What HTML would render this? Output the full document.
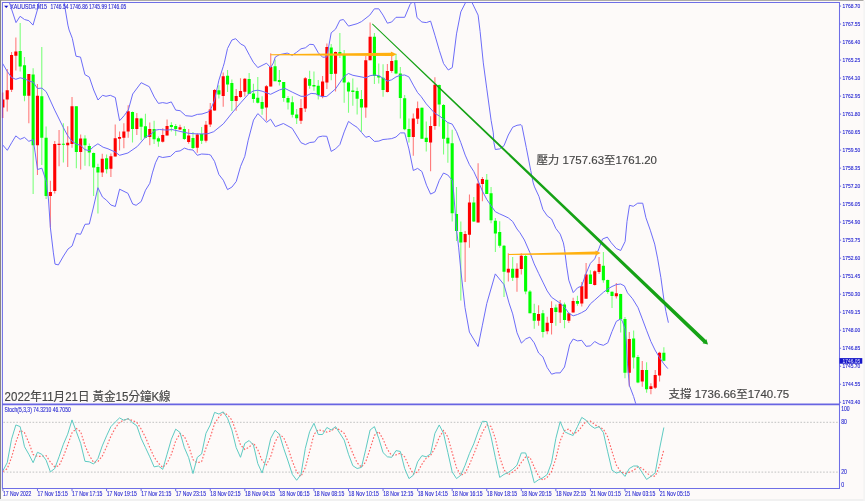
<!DOCTYPE html>
<html lang="zh-Hant"><head><meta charset="utf-8"><title>XAUUSD M15</title>
<style>html,body{margin:0;padding:0;background:#fdfaf9;overflow:hidden}svg{display:block}text{font-family:"Liberation Sans","Noto Sans CJK TC",sans-serif}.ax{font-size:6.3px;fill:#2a2ad2;stroke:#2a2ad2;stroke-width:0.12px}.cap{font-size:12px;fill:#444;stroke:#444;stroke-width:0.15px}.cap2{font-size:11.1px;fill:#444;stroke:#444;stroke-width:0.15px}</style></head><body>
<svg width="865" height="501" viewBox="0 0 865 501">
<rect width="865" height="501" fill="#fdfaf9"/>
<rect x="0" y="0" width="863.5" height="0.7" fill="#8a8a86"/>
<rect x="0" y="0" width="1" height="499.5" fill="#858585"/>
<rect x="0" y="499" width="865" height="2" fill="#f1f1f1"/>
<rect x="863.3" y="1" width="1.7" height="500" fill="#f4f4f4"/>
<defs><clipPath id="cm"><rect x="2.9" y="2.9" width="836.1" height="400.9"/></clipPath><clipPath id="ci"><rect x="2.9" y="404.8" width="836.1" height="83.2"/></clipPath><filter id="bl" x="-5%" y="-50%" width="110%" height="200%"><feGaussianBlur stdDeviation="0.3"/></filter></defs>
<g clip-path="url(#cm)">
<path d="M2.9 92.5V118M7.22 69V111.4M11.54 52V92M15.86 37.5V70.5M28.82 74V123.3M37.46 84V175.1M50.42 180.8V227.7M54.74 140.9V193.4M59.06 130V166.3M67.7 126.2V167M72.02 96.9V147.8M80.66 134.6V169.5M102.26 153.8V177M110.9 153.4V177M115.22 124.5V156.5M119.54 131.4V150.5M123.86 123.2V148.3M128.18 105.3V137.7M136.82 113.1V135.1M149.78 122.6V145.2M162.74 128.2V142.4M167.06 119.4V135.5M180.02 124.8V130.1M188.66 129.1V143.7M197.3 133.3V152.7M205.94 121.1V142.4M210.26 103V127M214.58 89V110.7M223.22 72.6V106.7M236.18 89V110.7M240.5 78.3V97.8M244.82 77.9V96.5M266.42 85V120.7M270.74 53.3V86.5M300.98 99V123.9M305.3 77V111.9M322.58 76.1V98.3M326.9 43.6V88.9M335.54 51.5V91.4M365.78 55.9V117.8M370.1 22.4V60.3M387.38 64V92.6M391.7 56.6V72.8M413.3 113.4V155.8M417.62 101.4V124M430.58 116.3V171.2M434.9 77.3V129.7M465.14 230.9V282.1M469.46 194.4V247.8M478.1 163.3V222.5M482.42 177.1V201.3M508.34 253.2V281.5M516.98 263.3V291.8M521.3 253.2V274.6M538.58 305.3V325.8M547.22 316.7V334.3M551.54 301.2V334.6M560.18 300.1V322.9M568.82 312.5V322.9M573.14 297.8V312.4M581.78 282.1V306.6M586.1 263V298.8M594.74 270.2V285.5M599.06 257V273.9M616.34 283V298.4M629.3 332.1V386.5M642.26 361.1V386.7M650.9 383.3V394.3M655.22 369.9V389M659.54 351.8V381.5" stroke="#ff7c7c" stroke-width="1.1" fill="none"/>
<path d="M20.18 22.9V71.5M24.5 57V101.3M33.14 68.3V194M41.78 47V165M46.1 126.5V199M63.38 123.3V162.6M76.34 106.3V168.2M84.98 135.3V165.7M89.3 143.4V166.3M93.62 152.5V195.9M97.94 163.8V213.6M106.58 154.4V173.6M132.5 111.6V142.4M141.14 117.8V140.2M145.46 113.8V138.3M154.1 120.7V143.9M158.42 136.4V146.7M171.38 122.2V131.6M175.7 124.1V135.8M184.34 126.3V139.9M192.98 132V149M201.62 127V143.9M218.9 85.2V98.4M227.54 70.1V92.1M231.86 79.5V111.1M249.14 73V94M253.46 83.7V102.8M257.78 77V103.5M262.1 96.3V114.8M275.06 59.4V81.2M279.38 69.9V85.5M283.7 82.1V101.8M288.02 95.9V109.4M292.34 96.3V117.6M296.66 108.9V123.9M309.62 70.7V88.7M313.94 71.6V90.8M318.26 80.1V99.5M331.22 44.1V80.2M339.86 33V57.9M344.18 50V102.7M348.5 81.6V112.7M352.82 78.6V105.8M357.14 87.6V114.6M361.46 89.9V131.8M374.42 33V84.1M378.74 63.4V83.6M383.06 64.3V96.7M396.02 53.7V74.3M400.34 67.1V118.4M404.66 94.9V130.3M408.98 118.4V142.6M421.94 107.5V138.8M426.26 121.5V151.6M439.22 84.5V126.6M443.54 104V154.5M447.86 122.8V162.7M452.18 129.7V221.5M456.5 186.9V241M460.82 221.5V300.5M473.78 196.9V222M486.74 174V194.1M491.06 186.9V223.3M495.38 217.9V251.9M499.7 221.2V247.8M504.02 245V297M512.66 257V280.9M525.62 255V294.3M529.94 290V313.3M534.26 303.8V328.7M542.9 310.1V337.5M555.86 304.5V325.8M564.5 302.6V328.3M577.46 295.7V305.7M590.42 270.2V284M603.38 251.9V282.7M607.7 279.6V293.8M612.02 291.5V307.9M620.66 293.8V332.5M624.98 317V378.3M633.62 330.5V368.6M637.94 355V383.3M646.58 362.3V392.8M663.86 347.2V361.3" stroke="#7cff7c" stroke-width="1.1" fill="none"/>
<path d="M1.35 99.5h3.1v8h-3.1zM5.67 90.3h3.1v9.1h-3.1zM9.99 55.1h3.1v34.6h-3.1zM14.31 51.4h3.1v4.4h-3.1zM27.27 74h3.1v21.7h-3.1zM35.91 95.7h3.1v49.6h-3.1zM48.87 192.1h3.1v3.8h-3.1zM53.19 144h3.1v46.9h-3.1zM57.51 143.8h3.1v1.2h-3.1zM66.15 142.8h3.1v2.5h-3.1zM70.47 106.3h3.1v37.7h-3.1zM79.11 138.4h3.1v13.5h-3.1zM100.71 158.8h3.1v13.8h-3.1zM109.35 156.3h3.1v12.5h-3.1zM113.67 138.3h3.1v18.2h-3.1zM117.99 137h3.1v1.7h-3.1zM122.31 131.4h3.1v6.3h-3.1zM126.63 111.3h3.1v20.3h-3.1zM135.27 118.2h3.1v10.7h-3.1zM148.23 129.1h3.1v7.9h-3.1zM161.19 135.1h3.1v6.6h-3.1zM165.51 126.1h3.1v9.4h-3.1zM178.47 127.3h3.1v2.2h-3.1zM187.11 135.5h3.1v6.6h-3.1zM195.75 134.5h3.1v13.2h-3.1zM204.39 124.8h3.1v16h-3.1zM208.71 109.5h3.1v15h-3.1zM213.03 90h3.1v20.5h-3.1zM221.67 76.2h3.1v19.7h-3.1zM234.63 95.9h3.1v5h-3.1zM238.95 90.9h3.1v6.2h-3.1zM243.27 78.7h3.1v13h-3.1zM264.87 86.2h3.1v21.4h-3.1zM269.19 67h3.1v19.5h-3.1zM299.43 108.1h3.1v12.6h-3.1zM303.75 78.3h3.1v30.2h-3.1zM321.03 81.6h3.1v14.8h-3.1zM325.35 47h3.1v35.6h-3.1zM333.99 52.1h3.1v21.7h-3.1zM364.23 60.3h3.1v47.2h-3.1zM368.55 36.8h3.1v23.5h-3.1zM385.83 71h3.1v21h-3.1zM390.15 61h3.1v9.9h-3.1zM411.75 118.4h3.1v18.6h-3.1zM416.07 108.3h3.1v10.5h-3.1zM429.03 125.9h3.1v16.7h-3.1zM433.35 84.8h3.1v41.1h-3.1zM463.59 234h3.1v8.3h-3.1zM467.91 202.6h3.1v32.1h-3.1zM476.55 183.4h3.1v39.1h-3.1zM480.87 179h3.1v5.1h-3.1zM506.79 268.7h3.1v3.7h-3.1zM515.43 268.7h3.1v9h-3.1zM519.75 255.7h3.1v13.2h-3.1zM537.03 314.1h3.1v6.7h-3.1zM545.67 322.7h3.1v8.5h-3.1zM549.99 307.9h3.1v15h-3.1zM558.63 303.8h3.1v8.6h-3.1zM567.27 313.3h3.1v7.5h-3.1zM571.59 301.1h3.1v11.3h-3.1zM580.23 286.3h3.1v17.3h-3.1zM584.55 274.6h3.1v24.2h-3.1zM593.19 271.2h3.1v13.8h-3.1zM597.51 263.9h3.1v8.2h-3.1zM614.79 293.3h3.1v3h-3.1zM627.75 339h3.1v33.7h-3.1zM640.71 369.9h3.1v11.6h-3.1zM649.35 386.2h3.1v2.8h-3.1zM653.67 374.9h3.1v12.8h-3.1zM657.99 352.8h3.1v22.6h-3.1z" fill="#ff0000"/>
<path d="M18.63 51.1h3.1v15.4h-3.1zM22.95 65.2h3.1v30.5h-3.1zM31.59 74.6h3.1v70.7h-3.1zM40.23 96.3h3.1v41.5h-3.1zM44.55 137.8h3.1v58.1h-3.1zM61.83 143.8h3.1v1h-3.1zM74.79 106.3h3.1v45.6h-3.1zM83.43 138.4h3.1v6.9h-3.1zM87.75 146h3.1v6.5h-3.1zM92.07 153.1h3.1v14.5h-3.1zM96.39 167h3.1v5.4h-3.1zM105.03 158.3h3.1v11h-3.1zM130.95 111.9h3.1v17h-3.1zM139.59 118.4h3.1v8.3h-3.1zM143.91 126.3h3.1v11.4h-3.1zM152.55 129.1h3.1v10.1h-3.1zM156.87 138.3h3.1v3.1h-3.1zM169.83 125.1h3.1v1.9h-3.1zM174.15 126.1h3.1v3h-3.1zM182.79 128.9h3.1v10h-3.1zM191.43 137.9h3.1v10.1h-3.1zM200.07 133.9h3.1v6.9h-3.1zM217.35 90.2h3.1v4.4h-3.1zM225.99 75.8h3.1v8.8h-3.1zM230.31 82.9h3.1v18h-3.1zM247.59 78.9h3.1v15.1h-3.1zM251.91 93.4h3.1v5.6h-3.1zM256.23 97.8h3.1v5h-3.1zM260.55 102.1h3.1v6.6h-3.1zM273.51 66.3h3.1v14.9h-3.1zM277.83 79.9h3.1v2.2h-3.1zM282.15 82.1h3.1v15.9h-3.1zM286.47 98h3.1v4.6h-3.1zM290.79 102.2h3.1v12.6h-3.1zM295.11 114.5h3.1v3.7h-3.1zM308.07 78.9h3.1v6.9h-3.1zM312.39 85h3.1v1.6h-3.1zM316.71 85.7h3.1v9.4h-3.1zM329.67 47.6h3.1v26.4h-3.1zM338.31 52.1h3.1v2.5h-3.1zM342.63 55h3.1v27.6h-3.1zM346.95 82.6h3.1v9h-3.1zM351.27 90.4h3.1v1.6h-3.1zM355.59 91.1h3.1v7.6h-3.1zM359.91 98.9h3.1v8.6h-3.1zM372.87 36.8h3.1v39.3h-3.1zM377.19 75.8h3.1v1.8h-3.1zM381.51 77.8h3.1v12.1h-3.1zM394.47 60.2h3.1v13.2h-3.1zM398.79 73.4h3.1v24.5h-3.1zM403.11 98.3h3.1v31h-3.1zM407.43 129h3.1v8h-3.1zM420.39 107.7h3.1v31.1h-3.1zM424.71 137.8h3.1v4.1h-3.1zM437.67 85.1h3.1v19.5h-3.1zM441.99 105h3.1v33.8h-3.1zM446.31 137.8h3.1v5.8h-3.1zM450.63 143.2h3.1v70.1h-3.1zM454.95 213.9h3.1v17h-3.1zM459.27 232.1h3.1v10.5h-3.1zM472.23 202.6h3.1v18.9h-3.1zM485.19 179.7h3.1v14.4h-3.1zM489.51 193.2h3.1v27h-3.1zM493.83 220.8h3.1v12.6h-3.1zM498.15 232.1h3.1v13.7h-3.1zM502.47 245.8h3.1v25.9h-3.1zM511.11 268.7h3.1v9h-3.1zM524.07 256.1h3.1v35.4h-3.1zM528.39 291.5h3.1v21.8h-3.1zM532.71 313h3.1v7.8h-3.1zM541.35 313.3h3.1v18.8h-3.1zM554.31 307.6h3.1v4.4h-3.1zM562.95 304.5h3.1v15.4h-3.1zM575.91 301.1h3.1v2.7h-3.1zM588.87 274.6h3.1v9.4h-3.1zM601.83 265.8h3.1v14.4h-3.1zM606.15 280h3.1v12h-3.1zM610.47 291.8h3.1v4.2h-3.1zM619.11 294h3.1v25h-3.1zM623.43 318.9h3.1v53.8h-3.1zM632.07 338.4h3.1v19.2h-3.1zM636.39 356.9h3.1v25.6h-3.1zM645.03 369.9h3.1v19.4h-3.1zM662.31 352.8h3.1v7.9h-3.1z" fill="#00ff00"/>
</g>
<g clip-path="url(#cm)" fill="none" stroke="#6c6cf8" stroke-width="1" stroke-linejoin="round">
<polyline points="2.9,-18 7.2,-4 9.4,2.5 11.5,9 16,22.6 20.1,16.3 24.5,19.5 28.9,20.7 33,25.1 37.7,8.8 41.9,-12 46,-30 59,-30 63,-3 64.1,2.5 67.9,25.1 69.1,30 72.3,38.3 76,56.2 80.5,57.1 84.9,74.6 89.3,77.1 93.7,90 98,100 102.5,95.3 106,96.3 110.3,95.3 115.3,97.5 118.1,112.9 119.6,120.7 124.1,115.7 128.3,110 132.7,94 141.2,82.7 149.3,86.7 154.3,97.1 158.4,103.4 162.7,102.6 166.9,103.4 171.3,101.9 175.7,110.1 180.1,110.7 185.7,115.7 192,116.3 197.3,114.4 202,114 208.3,111.9 210.5,109.7 214.5,100.3 218.9,80.2 223.3,66.3 224.3,62.9 227.5,48.5 231.9,40 235.7,38.7 240.7,44 244.5,45.9 249.5,55.3 253.3,62.2 257.8,67.6 266.5,63.2 270.6,67.6 273.4,62.9 275.3,57 279.4,54.7 287.2,53.1 292.2,55.3 296.6,52.3 301,48.8 305.4,47.8 309.8,44.3 313.6,44.6 318.3,52.8 322.6,57.2 326.8,57 329,45 331.2,32.8 335.5,29.2 339.9,20.3 343.4,19.5 348.5,26.1 357.1,23.7 361.5,21.6 369.8,15.1 374.4,8.8 378.8,8.8 383,15.1 387.4,23.2 391.7,22 396,17.3 404.7,17.3 410.1,4.4 412,2.3 413.3,0 414.5,2.3 417,17.6 421.9,22 426.3,22.6 430.6,21.1 434.9,35.2 439.3,50.3 443.6,63.6 448.3,70 452.3,67.5 456.5,33.9 460.8,11.9 465.7,2.3 468.5,-2 471.9,2.3 478.1,15.1 480.1,31.4 483.3,62.9 486.8,88.9 491.1,120.3 493.3,132.9 493.9,142.6 495.3,149.5 499.7,148.9 504,145.7 508.3,135 512.7,127.2 517,125.3 521,124.7 521.9,125.7 526.3,147.7 530.7,170.3 533.2,182.9 534.5,186.9 538.9,196.3 542.9,209.5 547.2,215.8 551.6,219 555.8,228.4 560.2,234.1 563.4,242.9 564.5,248.8 566.5,265.1 568.8,280.2 573.2,292.6 577.5,287.8 581.7,285.9 586.1,273.3 590.4,263.3 594.7,258.9 599.1,248.2 602.5,239 607.3,237.1 611.3,242.8 616.3,248.5 620.7,250.5 625.1,241.5 627,221.4 629.5,205.3 633.3,206.3 637.7,203.2 642.7,203.2 645.9,217.7 650.3,230.2 654.7,244.1 657.7,258.9 660.9,277.7 663.9,299.6 665.9,311.4 668.4,322.7"/>
<polyline points="2.5,63.3 7.3,71.5 11.6,77.5 15.8,79.3 20.1,77.8 24.5,78.8 28.8,80.9 33.2,82.2 37.5,88.5 41.9,88.1 46.1,91.6 47.8,95 54.7,110.1 63.4,127.7 67.8,135.9 72,141.3 76.3,144.1 80.6,145.3 85,149.7 89.3,150.6 93.7,146.6 97.9,143.8 103.1,147.2 108,148.8 115.3,152.1 119.6,155.3 127.9,153 137.3,146.5 145.5,137 149.8,135.1 155.5,130.1 159.3,129.5 166.9,130.1 171.9,129.5 180.1,131.4 188.6,133.3 197,133.9 204.6,133.9 208,133.7 213.7,131.7 223.3,123.9 231.9,113.2 240.7,102.8 249.1,93.4 253.5,90.9 257.8,90.2 262.1,91.2 270.6,94.3 279.4,90 284.7,88.3 292.2,92.1 301,96.3 305.4,96.3 311.1,93.4 316,93.8 318.3,95.5 322.6,96.7 326.8,96.4 335.5,88.9 344.2,76.3 348.5,73.5 352.9,75.3 365.8,77.8 370.1,75.7 374.4,75 378.8,75.7 383,78.2 387.4,81.1 391.7,79.8 396,76.9 400.4,75.3 404.7,75 408.9,76.9 413.3,85.1 417.6,92.6 421,96.4 426.3,103.9 434.9,113.4 439.3,115.9 443.5,119 447.8,122.6 452.2,124.1 456.5,131.6 460.8,142.6 465.2,155.1 469.4,164.6 473.8,171.5 478.1,180.9 482.4,191 486.8,199.5 491.1,205.7 495.3,211.7 499.7,213.9 504,215.8 508.3,217.9 512.7,221.5 517,229 520,232.8 524.4,240 529.9,252.6 534.2,263.9 538.6,273.3 542.9,282.1 547.2,290.9 551.6,297.3 560.2,303.2 564.5,307 568.8,313.3 573.2,315.8 577.5,314.5 581.7,312.6 586.1,310.1 590.4,303.8 594.7,300.1 599.1,296.1 603.4,292.3 607.8,289 612,286.5 616.3,284.6 620.7,284 624.4,285.9 627.5,292.8 632.6,298.8 638,307.6 642.3,318.9 646.5,330.2 650.9,341.5 655,350 659.5,357.6 663.9,363.9 667.8,368.6"/>
<polyline points="2.5,144.7 7.3,150.3 11.6,142.8 15.8,135.9 20.1,139.3 24.5,137.4 28.8,141.3 33.2,139.7 35.2,152.9 37.5,169.5 41.9,168.2 46.3,181.4 48.5,200 50.4,227.7 53.4,252.9 55,264.1 58.4,264.9 63.5,256 68,249 72.1,246 76.4,233.5 80.6,234.3 85,224.3 89.3,224 93.5,207 97.9,187.7 102.5,197.1 106.5,200.2 110.9,205 115.3,206.5 119.6,189.2 127.9,193.3 132.7,204 136.1,205.3 141.2,201.5 145.5,190.2 149.8,183.3 152.4,172.9 155.5,162.8 158.7,156.3 162.7,157.5 170.6,156.3 175.7,151.5 180.1,150.9 184.5,148.1 188.6,149.6 193,150 197.3,155.3 201.6,154 208.3,154.4 210.5,155 214.5,161.3 218.9,174.5 223.3,180.2 227.5,189.6 231.9,187.1 236.3,181.4 240.6,166.3 244.8,156.3 248.2,140.2 253.5,120.1 257.8,113.6 262.1,117.6 266.5,122.4 270.6,119.2 275.3,126.7 283.4,123.5 292.2,128.3 301,142.7 305.4,144.6 309.8,142.5 314.5,142 318.3,137 322.6,136.1 326.8,136.3 331.2,151.4 335.5,148.9 339.9,144.5 344.2,131.9 348.5,121.4 352.9,124.7 357.1,127.3 361.5,132.4 365.8,137.3 369.2,136.3 374.4,141.4 378.8,141.1 383,139.5 387.4,139.1 391.7,138.6 396,137 400.4,132.9 404.7,132.9 408.9,148.9 413.3,170.5 417.6,168.4 421.9,171.5 426.5,185.2 430.6,194.1 434.9,192 439.3,180.3 443.5,173 447.8,175 452.2,180.3 453.7,192.9 456.5,229 458.7,247.9 460.8,270.2 465,307.6 469.4,332.1 478.1,346.5 482.4,325.2 486.8,303.4 495.3,273.9 504,284.6 509,302.9 512.7,313.9 517,332.7 521.4,343.1 525.7,339 529.9,337.1 534.2,342.8 538.6,353 542.9,356.9 547.2,367.6 551.6,374.2 555.8,372.9 560.2,372.9 564.5,367 567.1,356 569.7,344.5 573.2,339 577.5,340.9 581.7,340.3 586.1,346.3 590.4,345.9 594.7,341.5 599.1,344.1 603.4,345.3 607.8,342.8 612,331.5 616.3,321.4 620.7,318.9 622.5,321.4 625,329 626.3,342 627.5,363.9 629.3,385.2 633.6,396.5 635.7,403.5 638,412"/>
</g>
<path d="M270.3 54.15 L391 52.75 L390.8 51.6 L396.7 54.3 L391 56.9 L391 56 L270.3 55.15z" fill="#ffb00f"/>
<path d="M508.2 253.95 L595.6 251.4 L595.4 250.5 L600.7 253 L595.5 255.7 L595.6 254.5 L508.2 254.95z" fill="#ffb00f"/>
<path d="M372.59 23.6 L705.99 339.95 L706.39 339.09 L708 344.5 L702.52 343.14 L703.36 342.7 L372.01 24.2 z" fill="#16a216"/>
<g fill="none" stroke="#6e6ee6" stroke-width="1.05">
<path d="M2.4 2.4H839.5M2.4 2V488.5M839.5 2V488.5M2 488.5H840"/>
<path d="M2 404.45H840" stroke-width="1.75" stroke="#6864e2"/>
</g>
<path d="M2.45 92.5V118" stroke="#8a48b4" stroke-width="1"/>
<g class="ax" filter="url(#bl)">
<text x="842.6" y="8.05" textLength="17.7" lengthAdjust="spacingAndGlyphs" style="font-size:5.9px">1768.70</text>
<text x="842.6" y="26.06" textLength="17.7" lengthAdjust="spacingAndGlyphs" style="font-size:5.9px">1767.55</text>
<text x="842.6" y="44.07" textLength="17.7" lengthAdjust="spacingAndGlyphs" style="font-size:5.9px">1766.40</text>
<text x="842.6" y="62.08" textLength="17.7" lengthAdjust="spacingAndGlyphs" style="font-size:5.9px">1765.25</text>
<text x="842.6" y="80.09" textLength="17.7" lengthAdjust="spacingAndGlyphs" style="font-size:5.9px">1764.10</text>
<text x="842.6" y="98.1" textLength="17.7" lengthAdjust="spacingAndGlyphs" style="font-size:5.9px">1762.95</text>
<text x="842.6" y="116.11" textLength="17.7" lengthAdjust="spacingAndGlyphs" style="font-size:5.9px">1761.80</text>
<text x="842.6" y="134.12" textLength="17.7" lengthAdjust="spacingAndGlyphs" style="font-size:5.9px">1760.65</text>
<text x="842.6" y="152.13" textLength="17.7" lengthAdjust="spacingAndGlyphs" style="font-size:5.9px">1759.50</text>
<text x="842.6" y="170.14" textLength="17.7" lengthAdjust="spacingAndGlyphs" style="font-size:5.9px">1758.35</text>
<text x="842.6" y="188.15" textLength="17.7" lengthAdjust="spacingAndGlyphs" style="font-size:5.9px">1757.20</text>
<text x="842.6" y="206.16" textLength="17.7" lengthAdjust="spacingAndGlyphs" style="font-size:5.9px">1756.05</text>
<text x="842.6" y="224.17" textLength="17.7" lengthAdjust="spacingAndGlyphs" style="font-size:5.9px">1754.90</text>
<text x="842.6" y="242.18" textLength="17.7" lengthAdjust="spacingAndGlyphs" style="font-size:5.9px">1753.75</text>
<text x="842.6" y="260.19" textLength="17.7" lengthAdjust="spacingAndGlyphs" style="font-size:5.9px">1752.60</text>
<text x="842.6" y="278.2" textLength="17.7" lengthAdjust="spacingAndGlyphs" style="font-size:5.9px">1751.45</text>
<text x="842.6" y="296.21" textLength="17.7" lengthAdjust="spacingAndGlyphs" style="font-size:5.9px">1750.30</text>
<text x="842.6" y="314.22" textLength="17.7" lengthAdjust="spacingAndGlyphs" style="font-size:5.9px">1749.15</text>
<text x="842.6" y="332.23" textLength="17.7" lengthAdjust="spacingAndGlyphs" style="font-size:5.9px">1748.00</text>
<text x="842.6" y="350.24" textLength="17.7" lengthAdjust="spacingAndGlyphs" style="font-size:5.9px">1746.85</text>
<text x="842.6" y="368.25" textLength="17.7" lengthAdjust="spacingAndGlyphs" style="font-size:5.9px">1745.70</text>
<text x="842.6" y="386.26" textLength="17.7" lengthAdjust="spacingAndGlyphs" style="font-size:5.9px">1744.55</text>
<text x="842.6" y="404.27" textLength="17.7" lengthAdjust="spacingAndGlyphs" style="font-size:5.9px">1743.40</text>
<path d="M839.5 6.05h1.6M839.5 24.06h1.6M839.5 42.07h1.6M839.5 60.08h1.6M839.5 78.09h1.6M839.5 96.1h1.6M839.5 114.11h1.6M839.5 132.12h1.6M839.5 150.13h1.6M839.5 168.14h1.6M839.5 186.15h1.6M839.5 204.16h1.6M839.5 222.17h1.6M839.5 240.18h1.6M839.5 258.19h1.6M839.5 276.2h1.6M839.5 294.21h1.6M839.5 312.22h1.6M839.5 330.23h1.6M839.5 348.24h1.6M839.5 366.25h1.6M839.5 384.26h1.6M839.5 402.27h1.6" stroke="#6e6ee6" stroke-width="1"/>
<rect x="839.6" y="358.1" width="22.6" height="5.6" fill="#1414c8"/>
<text x="842.6" y="362.9" textLength="17.7" lengthAdjust="spacingAndGlyphs" style="font-size:5.9px;fill:#e4e4ff;stroke:none">1746.05</text>
<text x="841.2" y="411.1" textLength="8.5" lengthAdjust="spacingAndGlyphs">100</text>
<text x="841.2" y="424" textLength="5.7" lengthAdjust="spacingAndGlyphs">80</text>
<text x="841.2" y="474.2" textLength="5.7" lengthAdjust="spacingAndGlyphs">20</text>
<text x="841.2" y="487.4" textLength="2.9" lengthAdjust="spacingAndGlyphs">0</text>
<path d="M4.3 5.8h3.9l-1.95 2.3z" fill="#1010c8"/>
<text x="10.3" y="9.1" textLength="36.7" lengthAdjust="spacingAndGlyphs">XAUUSD#,M15</text>
<text x="50.5" y="9.1" textLength="75.7" lengthAdjust="spacingAndGlyphs">1746.54 1746.86 1745.99 1746.05</text>
<text x="4.6" y="412.3" textLength="66.1" lengthAdjust="spacingAndGlyphs">Stoch(5,3,3) 74.3210 46.7050</text>
<text x="3" y="495.8" textLength="28.4" lengthAdjust="spacingAndGlyphs">17 Nov 2022</text>
<text x="37.56" y="495.8" textLength="30.2" lengthAdjust="spacingAndGlyphs">17 Nov 15:15</text>
<text x="72.12" y="495.8" textLength="30.2" lengthAdjust="spacingAndGlyphs">17 Nov 17:15</text>
<text x="106.68" y="495.8" textLength="30.2" lengthAdjust="spacingAndGlyphs">17 Nov 19:15</text>
<text x="141.24" y="495.8" textLength="30.2" lengthAdjust="spacingAndGlyphs">17 Nov 21:15</text>
<text x="175.8" y="495.8" textLength="30.2" lengthAdjust="spacingAndGlyphs">17 Nov 23:15</text>
<text x="210.36" y="495.8" textLength="30.2" lengthAdjust="spacingAndGlyphs">18 Nov 02:15</text>
<text x="244.92" y="495.8" textLength="30.2" lengthAdjust="spacingAndGlyphs">18 Nov 04:15</text>
<text x="279.48" y="495.8" textLength="30.2" lengthAdjust="spacingAndGlyphs">18 Nov 06:15</text>
<text x="314.04" y="495.8" textLength="30.2" lengthAdjust="spacingAndGlyphs">18 Nov 08:15</text>
<text x="348.6" y="495.8" textLength="30.2" lengthAdjust="spacingAndGlyphs">18 Nov 10:15</text>
<text x="383.16" y="495.8" textLength="30.2" lengthAdjust="spacingAndGlyphs">18 Nov 12:15</text>
<text x="417.72" y="495.8" textLength="30.2" lengthAdjust="spacingAndGlyphs">18 Nov 14:15</text>
<text x="452.28" y="495.8" textLength="30.2" lengthAdjust="spacingAndGlyphs">18 Nov 16:15</text>
<text x="486.84" y="495.8" textLength="30.2" lengthAdjust="spacingAndGlyphs">18 Nov 18:15</text>
<text x="521.4" y="495.8" textLength="30.2" lengthAdjust="spacingAndGlyphs">18 Nov 20:15</text>
<text x="555.96" y="495.8" textLength="30.2" lengthAdjust="spacingAndGlyphs">18 Nov 22:15</text>
<text x="590.52" y="495.8" textLength="30.2" lengthAdjust="spacingAndGlyphs">21 Nov 01:15</text>
<text x="625.08" y="495.8" textLength="30.2" lengthAdjust="spacingAndGlyphs">21 Nov 03:15</text>
<text x="659.64" y="495.8" textLength="30.2" lengthAdjust="spacingAndGlyphs">21 Nov 05:15</text>
<path d="M2.9 488.5v2.6M37.46 488.5v2.6M72.02 488.5v2.6M106.58 488.5v2.6M141.14 488.5v2.6M175.7 488.5v2.6M210.26 488.5v2.6M244.82 488.5v2.6M279.38 488.5v2.6M313.94 488.5v2.6M348.5 488.5v2.6M383.06 488.5v2.6M417.62 488.5v2.6M452.18 488.5v2.6M486.74 488.5v2.6M521.3 488.5v2.6M555.86 488.5v2.6M590.42 488.5v2.6M624.98 488.5v2.6M659.54 488.5v2.6" stroke="#6e6ee6" stroke-width="1"/>
</g>
<g clip-path="url(#ci)" fill="none">
<path d="M3.4 422.4H839M3.4 472.1H839" stroke="#cdcdcd" stroke-width="1.15" stroke-dasharray="1.62 1.62"/>
<polyline points="2.9,471.49 7.22,468.7 11.54,457.53 15.86,442.27 20.18,430.26 24.5,432.77 28.82,442.55 33.14,454.56 37.46,456.41 41.78,456.41 46.1,455.57 50.42,462.11 54.74,466.86 59.06,465.74 63.38,456.52 67.7,445.07 72.02,432.77 76.34,428.58 80.66,431.66 84.98,445.46 89.3,455.51 93.62,462.39 97.94,461.44 102.26,456.13 106.58,446.74 110.9,436.13 115.22,428.19 119.54,422.21 123.86,420.09 128.18,418.92 132.5,420.54 136.82,422.38 141.14,428.97 145.46,437.24 149.78,447.58 154.1,457.08 158.42,463.22 162.74,467.41 167.06,463.22 171.38,454.28 175.7,440.88 180.02,433.61 184.34,436.41 188.66,445.9 192.98,459.59 197.3,462.83 201.62,461.6 205.94,448.19 210.26,437.41 214.58,423.56 218.9,417.13 223.22,412.77 227.54,414.73 231.86,420.04 236.18,431.94 240.5,444.95 244.82,449.42 249.14,447.08 253.46,443 257.78,449.7 262.1,460.54 266.42,464.73 270.74,456.35 275.06,442.1 279.38,434.28 283.7,437.64 288.02,447.86 292.34,461.27 296.66,471.88 300.98,476.35 305.3,467.69 309.62,451.49 313.94,434.45 318.26,429.81 322.58,430.76 326.9,432.16 331.22,430.65 335.54,428.03 339.86,429.98 344.18,433.33 348.5,442.55 352.82,453.34 357.14,462.83 361.46,467.19 365.78,461.72 370.1,448.87 374.42,435.29 378.74,431.66 383.06,439.2 387.38,449.26 391.7,455.57 396.02,454.9 400.34,453.11 404.66,456.86 408.98,466.19 413.3,474.12 417.62,471.88 421.94,464.23 426.26,458.08 430.58,455.46 434.9,448.03 439.22,437.41 443.54,430.54 447.86,436.96 452.18,452.61 456.5,467.69 460.82,475.24 465.14,473 469.46,464.62 473.78,454.17 478.1,443 482.42,432.27 486.74,424.84 491.06,426.52 495.38,438.64 499.7,457.25 504.02,469.82 508.34,474.73 512.66,472.05 516.98,468.98 521.3,462.5 525.62,457.02 529.94,457.3 534.26,467.25 538.58,476.19 542.9,480.1 547.22,477.3 551.54,471.61 555.86,458.48 560.18,440.88 564.5,430.54 568.82,429.03 573.14,433.67 577.46,431.99 581.78,426.52 586.1,421.43 590.42,421.04 594.74,424.67 599.06,426.8 603.38,429.14 607.7,436.96 612.02,451.49 616.34,465.01 620.66,471.61 624.98,473.67 629.3,472.16 633.62,470.32 637.94,466.86 642.26,468.25 646.58,472.72 650.9,476.19 655.22,476.19 659.54,466.02 663.86,449.7" stroke="#ff6464" stroke-width="1.15" stroke-dasharray="1.6 1.75"/>
<polyline points="2.9,470.71 7.22,462.67 11.54,439.2 15.86,424.95 20.18,426.63 24.5,446.74 28.82,454.28 33.14,462.67 37.46,452.27 41.78,454.28 46.1,460.15 50.42,471.88 54.74,468.53 59.06,456.8 63.38,444.23 67.7,434.17 72.02,419.92 76.34,431.66 80.66,443.39 84.98,461.32 89.3,461.83 93.62,464.01 97.94,458.48 102.26,445.9 106.58,435.85 110.9,426.63 115.22,422.1 119.54,417.91 123.86,420.26 128.18,418.58 132.5,422.77 136.82,425.79 141.14,438.36 145.46,447.58 149.78,456.8 154.1,466.86 158.42,466.02 162.74,469.37 167.06,454.28 171.38,439.2 175.7,429.14 180.02,432.49 184.34,447.58 188.66,457.64 192.98,473.56 197.3,457.3 201.62,453.95 205.94,433.33 210.26,424.95 214.58,412.38 218.9,414.06 223.22,411.88 227.54,418.25 231.86,429.98 236.18,447.58 240.5,457.3 244.82,443.39 249.14,440.54 253.46,445.07 257.78,463.5 262.1,473.06 266.42,457.64 270.74,438.36 275.06,430.32 279.38,434.17 283.7,448.42 288.02,460.99 292.34,474.4 296.66,480.27 300.98,474.4 305.3,448.42 309.62,431.66 313.94,423.28 318.26,434.51 322.58,434.51 326.9,427.47 331.22,429.98 335.54,426.63 339.86,433.33 344.18,440.04 348.5,454.28 352.82,465.68 357.14,468.53 361.46,467.36 365.78,449.26 370.1,429.98 374.42,426.63 378.74,438.36 383.06,452.61 387.38,456.8 391.7,457.3 396.02,450.6 400.34,451.44 404.66,468.53 408.98,478.59 413.3,475.24 417.62,461.83 421.94,455.63 426.26,456.8 430.58,453.95 434.9,433.33 439.22,424.95 443.54,433.33 447.86,452.61 452.18,471.88 456.5,478.59 460.82,475.24 465.14,465.18 469.46,453.45 473.78,443.89 478.1,431.66 482.42,421.26 486.74,421.6 491.06,436.69 495.38,457.64 499.7,477.42 504.02,474.4 508.34,472.39 512.66,469.37 516.98,465.18 521.3,452.94 525.62,452.94 529.94,466.02 534.26,482.78 538.58,479.76 542.9,477.75 547.22,474.4 551.54,462.67 555.86,438.36 560.18,421.6 564.5,431.66 568.82,433.84 573.14,435.51 577.46,426.63 581.78,417.41 586.1,420.26 590.42,425.45 594.74,428.3 599.06,426.63 603.38,432.49 607.7,451.77 612.02,470.21 616.34,473.06 620.66,471.55 624.98,476.41 629.3,468.53 633.62,466.02 637.94,466.02 642.26,472.72 646.58,479.43 650.9,476.41 655.22,472.72 659.54,448.92 663.86,427.47" stroke="#5ecac2" stroke-width="1" stroke-linejoin="round"/>
</g>
<g class="cap">
<text x="4.6" y="401.3" textLength="166" lengthAdjust="spacingAndGlyphs">2022年11月21日 黃金15分鐘K線</text>
<text class="cap2" x="536.4" y="163.9" textLength="120.6" lengthAdjust="spacingAndGlyphs">壓力 1757.63至1761.20</text>
<text class="cap2" x="668.6" y="398.1" textLength="120.6" lengthAdjust="spacingAndGlyphs">支撐 1736.66至1740.75</text>
</g>
</svg></body></html>
